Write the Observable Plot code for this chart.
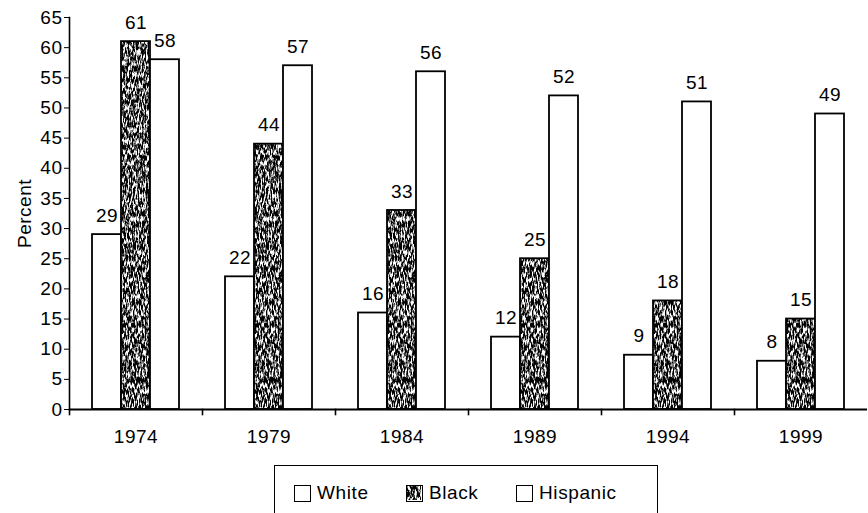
<!DOCTYPE html>
<html>
<head>
<meta charset="utf-8">
<script src="https://cdn.jsdelivr.net/npm/d3@7"></script>
<script src="https://cdn.jsdelivr.net/npm/@observablehq/plot@0.6"></script>
<style>
  body { margin: 0; background: #fff; font-family: "Liberation Sans", Arial, sans-serif; }
  #wrap { position: relative; width: 868px; height: 513px; overflow: hidden; }
  #legend { position: absolute; left: 274px; top: 465px; width: 384px; height: 70px;
            border: 1.5px solid #000; box-sizing: border-box; font-size: 19px; color: #000; letter-spacing: 0.6px; }
  .item { position: absolute; top: 16px; display: flex; align-items: center; }
  .sw { width: 17px; height: 17px; border: 1.5px solid #000; box-sizing: border-box; margin-right: 6px; background: #fff; }
  .sw svg { display: block; }
</style>
</head>
<body>
<div id="wrap">
  <div id="chart"></div>
  <div id="legend"></div>
</div>
<script>
const years = [1974, 1979, 1984, 1989, 1994, 1999];
const races = ["White", "Black", "Hispanic"];
const whiteValues = [29, 22, 16, 12, 9, 8];
const blackValues = [61, 44, 33, 25, 18, 15];
const hispanicValues = [58, 57, 56, 52, 51, 49];
const yTicks = [0, 5, 10, 15, 20, 25, 30, 35, 40, 45, 50, 55, 60, 65];

const series = {White: whiteValues, Black: blackValues, Hispanic: hispanicValues};
const data = [];
years.forEach((year, i) => races.forEach(race => data.push({year, race, value: series[race][i]})));

const H = 455, MT = 17, MB = 46;
const font = "Liberation Sans, Arial, sans-serif";

const chart = Plot.plot({
  width: 868,
  height: H,
  marginTop: MT,
  marginBottom: MB,
  marginLeft: 68,
  marginRight: 0,
  style: {fontFamily: font, fontSize: "19px", color: "#000", background: "#fff", letterSpacing: "0.5px"},
  fx: {domain: years, padding: 0},
  x: {domain: races, paddingInner: 0, paddingOuter: 0.75, axis: null},
  y: {domain: [0, 65]},
  color: {domain: races, range: ["#ffffff", "url(#stip)", "#ffffff"]},
  marks: [
    Plot.barY(data, {fx: "year", x: "race", y: "value", fill: "race", stroke: "#000", strokeWidth: 1.8}),
    Plot.text(data, {fx: "year", x: "race", y: "value", text: "value", dy: -19, fontSize: 19, fill: "#000"}),
    Plot.ruleY([0], {stroke: "#000", strokeWidth: 2}),
    Plot.frame({anchor: "left", facetAnchor: "left", stroke: "#000", strokeWidth: 1.6}),
    Plot.frame({anchor: "left", insetTop: H - MT - MB, insetBottom: -5, stroke: "#000", strokeWidth: 1.6}),
    Plot.axisY({ticks: yTicks, tickSize: 5, tickPadding: 2, fontSize: 19, label: "Percent",
                labelAnchor: "center", labelArrow: "none", labelOffset: 52}),
    Plot.axisFx({anchor: "bottom", tickSize: 0, tickPadding: 20, fontSize: 19, label: null,
                 tickFormat: d => String(d)})
  ]
});

const defs = `
<defs>
  <filter id="noise" x="0" y="0" width="400" height="420" filterUnits="userSpaceOnUse">
    <feTurbulence type="fractalNoise" baseFrequency="0.7 0.18" numOctaves="3" seed="11" result="t"/>
    <feColorMatrix in="t" type="matrix" values="0 0 0 0 0  0 0 0 0 0  0 0 0 0 0  4.5 0 0 0 -1.6"/>
  </filter>
  <pattern id="stip" patternUnits="userSpaceOnUse" x="0" y="0" width="400" height="420">
    <rect width="400" height="420" fill="#fff"/>
    <rect width="400" height="420" fill="#000" filter="url(#noise)"/>
  </pattern>
</defs>`;
chart.insertAdjacentHTML("afterbegin", defs);
document.getElementById("chart").appendChild(chart);

// legend
const legend = document.getElementById("legend");
const lefts = [19, 131, 241];
races.forEach((race, i) => {
  const item = document.createElement("div");
  item.className = "item";
  item.style.left = lefts[i] + "px";
  const sw = document.createElement("div");
  sw.className = "sw";
  if (race === "Black") {
    sw.innerHTML = `<svg width="14" height="14"><rect width="14" height="14" fill="url(#stip)"/></svg>`;
  }
  const label = document.createElement("span");
  label.textContent = race;
  item.appendChild(sw);
  item.appendChild(label);
  legend.appendChild(item);
});
</script>
</body>
</html>
